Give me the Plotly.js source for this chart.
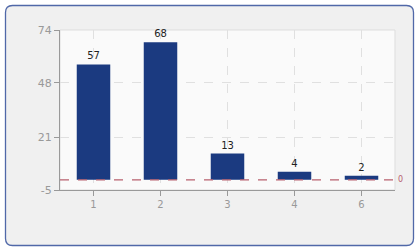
<!DOCTYPE html>
<html><head><meta charset="utf-8">
<script src="https://cdn.plot.ly/plotly-3.0.1.min.js"></script>
<style>html,body{margin:0;padding:0;background:#fff;}#c{width:420px;height:250px;}</style>
</head><body><div id="c"></div>
<script>
const categories = ["1", "2", "3", "4", "6"];
const values = [57, 68, 13, 4, 2];
const yTicks = [-5, 21, 48, 74];
const refValue = 0;

const trace = {
  type: 'bar',
  x: categories,
  y: values,
  text: values.map(String),
  textposition: 'outside',
  cliponaxis: false,
  textfont: {family: 'DejaVu Sans', size: 10, color: '#222'},
  marker: {color: '#1b3a80', line: {width: 0}},
  hoverinfo: 'none'
};

const layout = {
  width: 420, height: 250,
  margin: {l: 60, r: 25, t: 30, b: 60},
  paper_bgcolor: '#ffffff',
  plot_bgcolor: '#fafafa',
  bargap: 0.5,
  showlegend: false,
  font: {family: 'DejaVu Sans', size: 10, color: '#999'},
  xaxis: {
    type: 'category',
    showgrid: true, gridcolor: '#e0e0e0', griddash: 'dash',
    ticks: 'outside', ticklen: 5, tickcolor: '#999',
    showline: true, linecolor: '#999', linewidth: 1,
    tickfont: {color: '#999', size: 10}, zeroline: false
  },
  yaxis: {
    range: [-5, 74],
    tickvals: yTicks,
    ticktext: yTicks.map(String),
    showgrid: true, gridcolor: '#e0e0e0', griddash: 'dash',
    ticks: 'outside', ticklen: 5, tickcolor: '#999',
    showline: true, linecolor: '#999', linewidth: 1,
    tickfont: {color: '#999', size: 11}, zeroline: false
  },
  shapes: [],
  annotations: [
    {xref: 'paper', yref: 'y', x: 1, y: refValue, xanchor: 'left', xshift: 1,
     text: String(refValue), showarrow: false, font: {color: '#b8606e', size: 8}}
  ]
};

(function(){
  const W = 420 - 60 - 25, H = 250 - 30 - 60;
  const px = v => (v - 60) / W, py = v => 1 - (v - 30) / H;
  const x0 = 5.5, x1 = 413.5, y0 = 5.5, y1 = 245.5, r = 7;
  const p = `M ${px(x0+r)},${py(y0)} L ${px(x1-r)},${py(y0)} Q ${px(x1)},${py(y0)} ${px(x1)},${py(y0+r)} ` +
            `L ${px(x1)},${py(y1-r)} Q ${px(x1)},${py(y1)} ${px(x1-r)},${py(y1)} ` +
            `L ${px(x0+r)},${py(y1)} Q ${px(x0)},${py(y1)} ${px(x0)},${py(y1-r)} ` +
            `L ${px(x0)},${py(y0+r)} Q ${px(x0)},${py(y0)} ${px(x0+r)},${py(y0)} Z`;
  layout.shapes.push({type: 'path', xref: 'paper', yref: 'paper', layer: 'below', path: p,
    line: {color: '#5068a8', width: 1.3}, fillcolor: '#f0f0f0'});
  layout.shapes.push({type: 'rect', xref: 'paper', yref: 'paper', layer: 'below',
    x0: 0, x1: 1, y0: 0, y1: 1, line: {color: '#dddddd', width: 1}, fillcolor: '#fafafa'});
  layout.shapes.push({type: 'line', xref: 'paper', yref: 'y', x0: 0, x1: 1, y0: refValue, y1: refValue,
    line: {color: '#b8606e', width: 1.2, dash: 'dash'}});
})();

Plotly.newPlot('c', [trace], layout, {staticPlot: true, displayModeBar: false});
</script></body></html>
